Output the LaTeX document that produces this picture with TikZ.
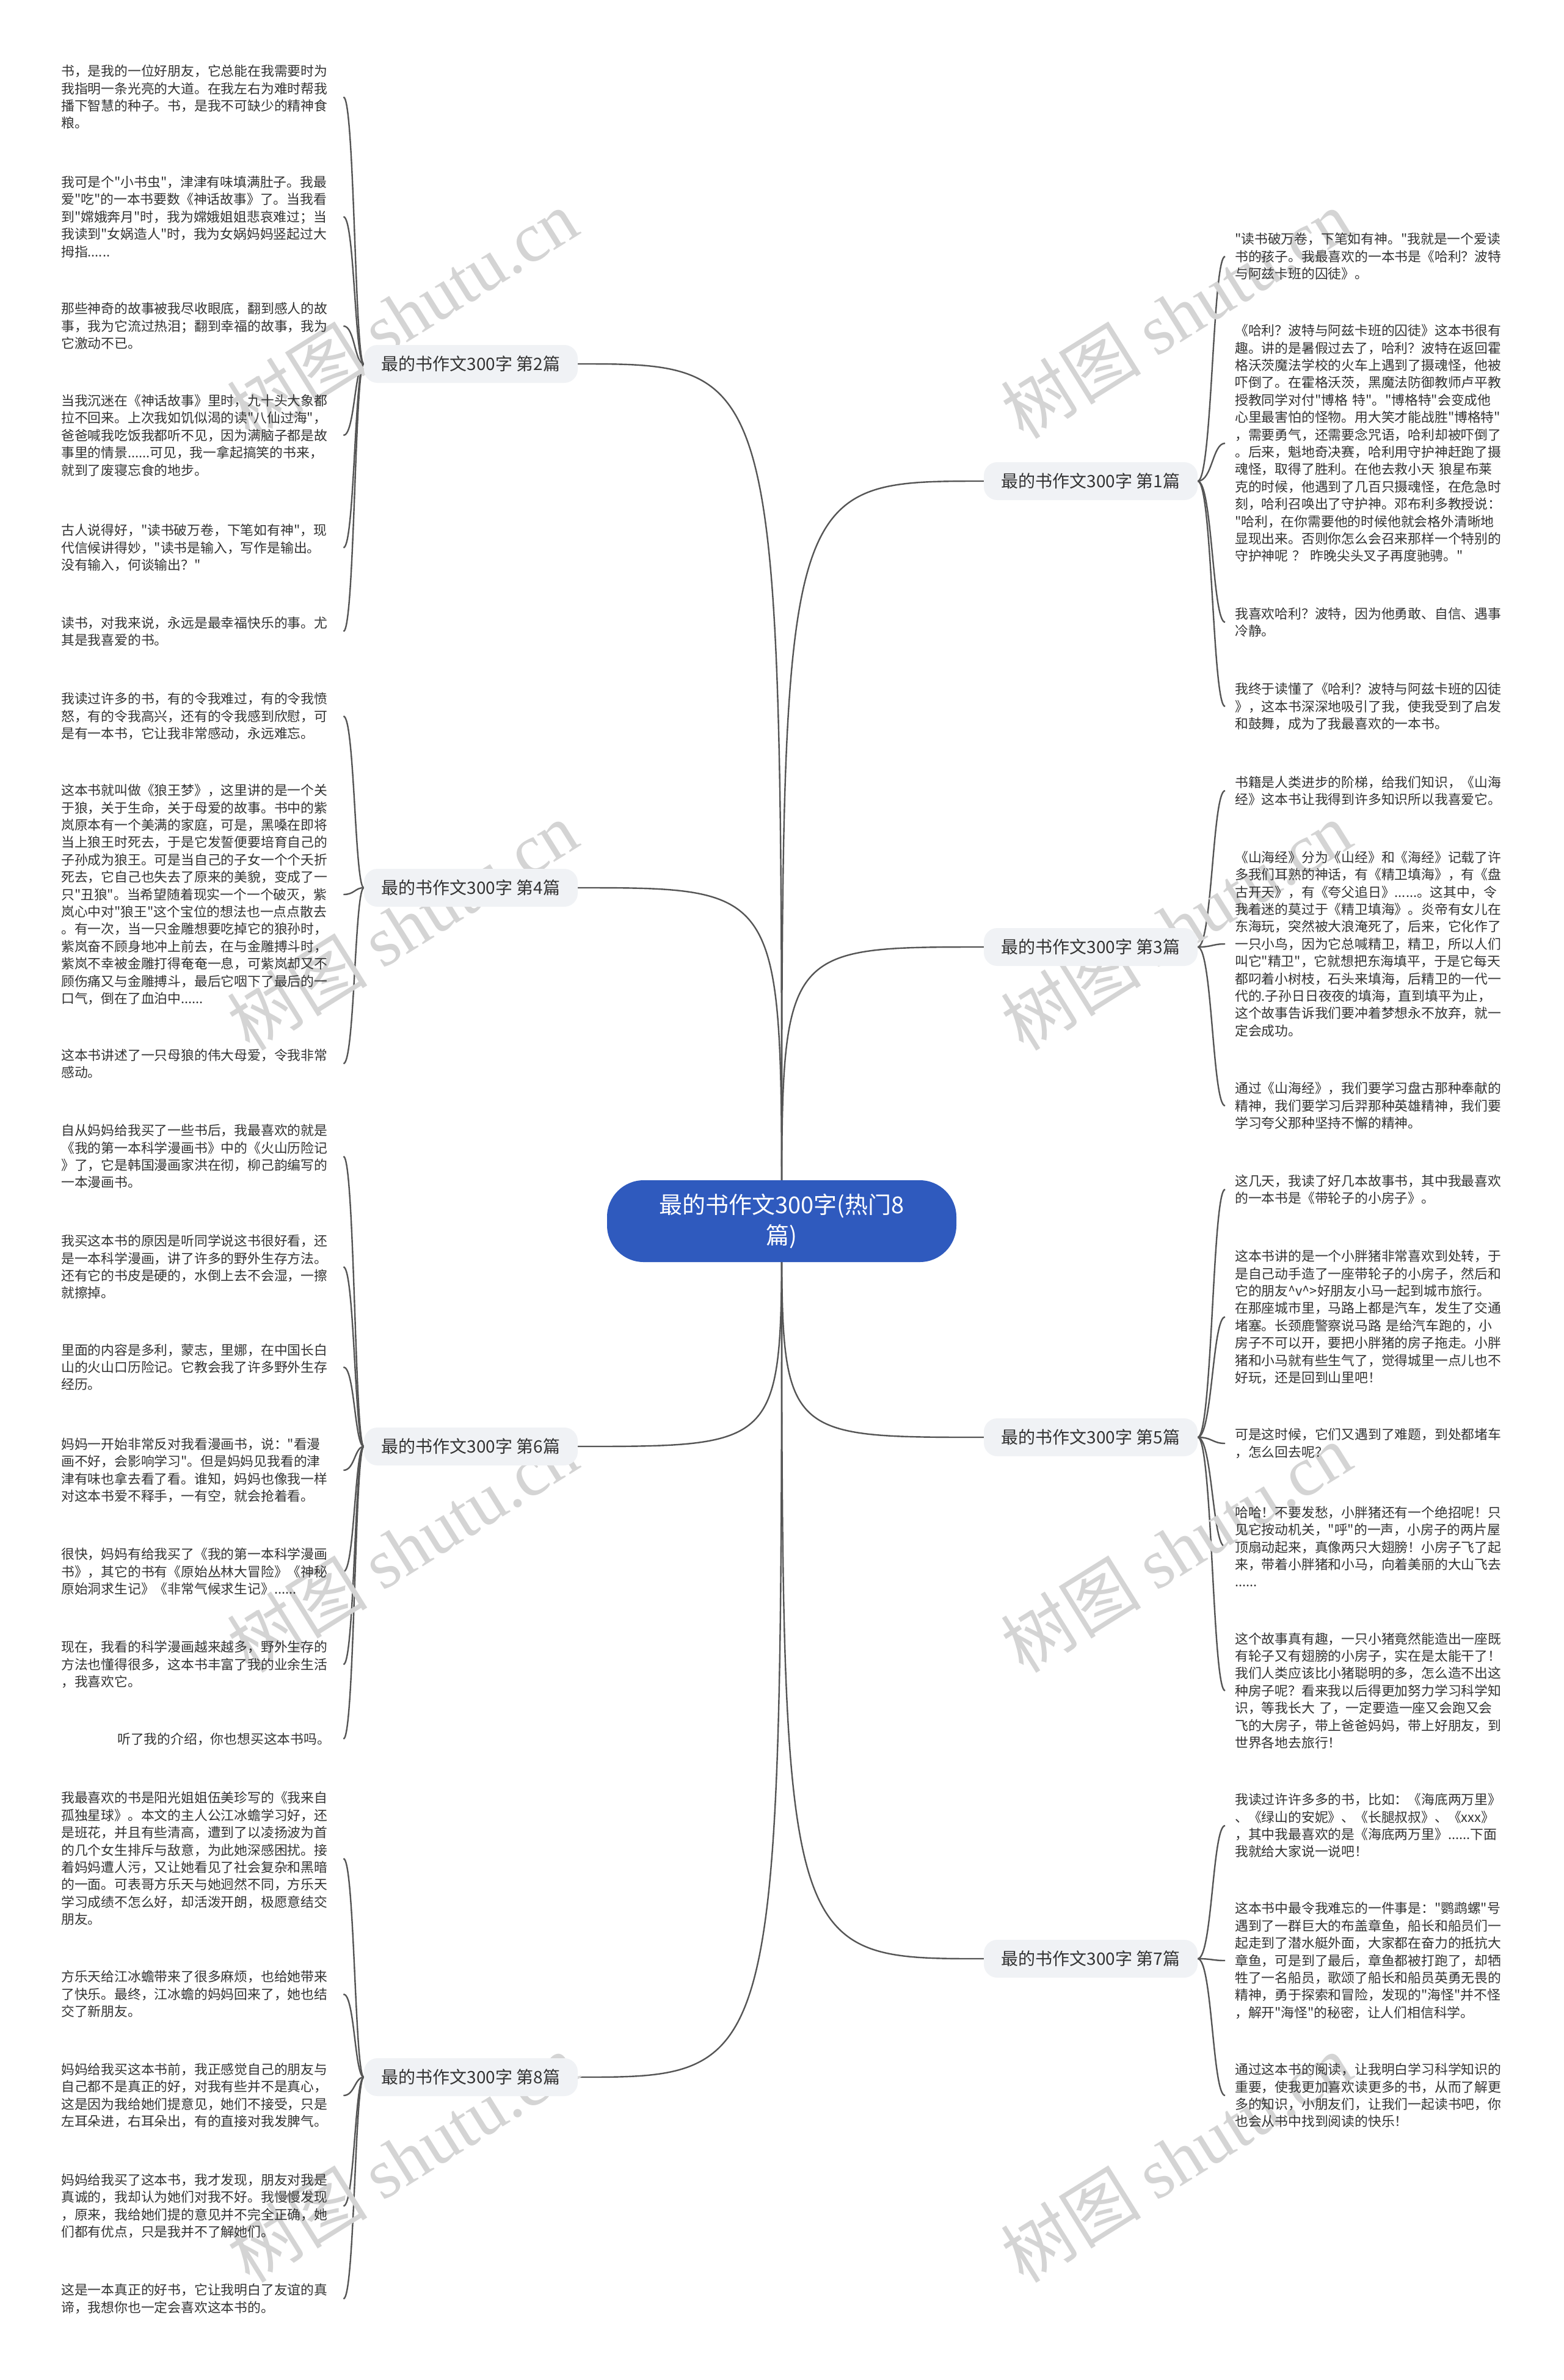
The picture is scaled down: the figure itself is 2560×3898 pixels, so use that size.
\documentclass[tikz,border=0pt]{standalone}
\usepackage{fontspec}
\newfontfamily\cjk{Noto Sans CJK SC}
\newfontfamily\wmserif{Liberation Serif}
\usetikzlibrary{calc,backgrounds}
\definecolor{rootblue}{HTML}{2F5ABE}
\definecolor{txt}{HTML}{333333}
\definecolor{lnc}{HTML}{555555}
\definecolor{brfill}{HTML}{F0F2F5}
\newcommand{\leftlink}[2]{\draw[conn] (#1.west) .. controls ($(#1.west)+(-15,0)$) and ($(#1.west |- #2.east)+(-15,0)$) .. ($(#2.east)+(12,0)$);}
\newcommand{\rightlink}[2]{\draw[conn] (#1.east) .. controls ($(#1.east)+(24,0)$) and ($(#1.east |- #2.west)+(24,0)$) .. ($(#2.west)+(-16,0)$);}
\begin{document}
\begin{tikzpicture}[x=1pt,y=-1pt,
 leaf/.style={anchor=west, inner sep=0pt, text width=450pt, align=left, text=txt, font=\cjk\fontsize{21.8}{28.4}\selectfont},
 branch/.style={fill=brfill, rounded corners=22pt, minimum width=350pt, minimum height=62pt, inner sep=0pt, text=txt, font=\cjk\fontsize{28}{34}\selectfont},
 rootnode/.style={fill=rootblue, rounded corners=60pt, minimum width=572pt, minimum height=134pt, text=white, align=center, font=\cjk\fontsize{38}{50}\selectfont},
 conn/.style={draw=lnc, line width=2.4pt},
 wm/.style={text=black!17, rotate=32, inner sep=0pt, font=\fontsize{115}{115}\selectfont}]
\useasboundingbox (0,0) rectangle (2560,3898);

% watermarks
\node[wm] (wm1) at (659,514) {\cjk 树图 \wmserif shutu.cn};
\node[wm] (wm2) at (659,1516) {\cjk 树图 \wmserif shutu.cn};
\node[wm] (wm3) at (659,2535) {\cjk 树图 \wmserif shutu.cn};
\node[wm] (wm4) at (659,3534) {\cjk 树图 \wmserif shutu.cn};
\node[wm] (wm5) at (1926,514) {\cjk 树图 \wmserif shutu.cn};
\node[wm] (wm6) at (1926,1516) {\cjk 树图 \wmserif shutu.cn};
\node[wm] (wm7) at (1926,2535) {\cjk 树图 \wmserif shutu.cn};
\node[wm] (wm8) at (1926,3534) {\cjk 树图 \wmserif shutu.cn};

% root and branches
\node[rootnode] (root) at (1280,2000) {最的书作文300字(热门8\\篇)};
\node[branch] (b2) at (771,596) {最的书作文300字 第2篇};
\node[branch] (b4) at (771,1454) {最的书作文300字 第4篇};
\node[branch] (b6) at (771,2369) {最的书作文300字 第6篇};
\node[branch] (b8) at (771,3402) {最的书作文300字 第8篇};
\node[branch] (b1) at (1786,788) {最的书作文300字 第1篇};
\node[branch] (b3) at (1786,1551) {最的书作文300字 第3篇};
\node[branch] (b5) at (1786,2354) {最的书作文300字 第5篇};
\node[branch] (b7) at (1786,3208) {最的书作文300字 第7篇};

% left leaves
\node[leaf] (l2a) at (100,159) {书，是我的一位好朋友，它总能在我需要时为\\我指明一条光亮的大道。在我左右为难时帮我\\播下智慧的种子。书，是我不可缺少的精神食\\粮。};
\node[leaf] (l2b) at (100,355) {我可是个"小书虫"，津津有味填满肚子。我最\\爱"吃"的一本书要数《神话故事》了。当我看\\到"嫦娥奔月"时，我为嫦娥姐姐悲哀难过；当\\我读到"女娲造人"时，我为女娲妈妈竖起过大\\拇指......};
\node[leaf] (l2c) at (100,534) {那些神奇的故事被我尽收眼底，翻到感人的故\\事，我为它流过热泪；翻到幸福的故事，我为\\它激动不已。};
\node[leaf] (l2d) at (100,713) {当我沉迷在《神话故事》里时，九十头大象都\\拉不回来。上次我如饥似渴的读"八仙过海"，\\爸爸喊我吃饭我都听不见，因为满脑子都是故\\事里的情景......可见，我一拿起搞笑的书来，\\就到了废寝忘食的地步。};
\node[leaf] (l2e) at (100,897) {古人说得好，"读书破万卷，下笔如有神"，现\\代信候讲得妙，"读书是输入，写作是输出。\\没有输入，何谈输出？"};
\node[leaf] (l2f) at (100,1034) {读书，对我来说，永远是最幸福快乐的事。尤\\其是我喜爱的书。};

\node[leaf] (l4a) at (100,1173) {我读过许多的书，有的令我难过，有的令我愤\\怒，有的令我高兴，还有的令我感到欣慰，可\\是有一本书，它让我非常感动，永远难忘。};
\node[leaf] (l4b) at (100,1465) {这本书就叫做《狼王梦》，这里讲的是一个关\\于狼，关于生命，关于母爱的故事。书中的紫\\岚原本有一个美满的家庭，可是，黑嗓在即将\\当上狼王时死去，于是它发誓便要培育自己的\\子孙成为狼王。可是当自己的子女一个个夭折\\死去，它自己也失去了原来的美貌，变成了一\\只"丑狼"。当希望随着现实一个一个破灭，紫\\岚心中对"狼王"这个宝位的想法也一点点散去\\。有一次，当一只金雕想要吃掉它的狼孙时，\\紫岚奋不顾身地冲上前去，在与金雕搏斗时，\\紫岚不幸被金雕打得奄奄一息，可紫岚却又不\\顾伤痛又与金雕搏斗，最后它咽下了最后的一\\口气，倒在了血泊中......};
\node[leaf] (l4c) at (100,1742) {这本书讲述了一只母狼的伟大母爱，令我非常\\感动。};

\node[leaf] (l6a) at (100,1894) {自从妈妈给我买了一些书后，我最喜欢的就是\\《我的第一本科学漫画书》中的《火山历险记\\》了，它是韩国漫画家洪在彻，柳己韵编写的\\一本漫画书。};
\node[leaf] (l6b) at (100,2075) {我买这本书的原因是听同学说这书很好看，还\\是一本科学漫画，讲了许多的野外生存方法。\\还有它的书皮是硬的，水倒上去不会湿，一擦\\就擦掉。};
\node[leaf] (l6c) at (100,2239) {里面的内容是多利，蒙志，里娜，在中国长白\\山的火山口历险记。它教会我了许多野外生存\\经历。};
\node[leaf] (l6d) at (100,2408) {妈妈一开始非常反对我看漫画书，说："看漫\\画不好，会影响学习"。但是妈妈见我看的津\\津有味也拿去看了看。谁知，妈妈也像我一样\\对这本书爱不释手，一有空，就会抢着看。};
\node[leaf] (l6e) at (100,2574) {很快，妈妈有给我买了《我的第一本科学漫画\\书》，其它的书有《原始丛林大冒险》《神秘\\原始洞求生记》《非常气候求生记》......};
\node[leaf] (l6f) at (100,2726) {现在，我看的科学漫画越来越多，野外生存的\\方法也懂得很多，这本书丰富了我的业余生活\\，我喜欢它。};
\node[leaf] (l6g) at (100,2848) {\hspace*{92pt}听了我的介绍，你也想买这本书吗。};

\node[leaf] (l8a) at (100,3044) {我最喜欢的书是阳光姐姐伍美珍写的《我来自\\孤独星球》。本文的主人公江冰蟾学习好，还\\是班花，并且有些清高，遭到了以凌扬波为首\\的几个女生排斥与敌意，为此她深感困扰。接\\着妈妈遭人污，又让她看见了社会复杂和黑暗\\的一面。可表哥方乐天与她迥然不同，方乐天\\学习成绩不怎么好，却活泼开朗，极愿意结交\\朋友。};
\node[leaf] (l8b) at (100,3266) {方乐天给江冰蟾带来了很多麻烦，也给她带来\\了快乐。最终，江冰蟾的妈妈回来了，她也结\\交了新朋友。};
\node[leaf] (l8c) at (100,3432) {妈妈给我买这本书前，我正感觉自己的朋友与\\自己都不是真正的好，对我有些并不是真心，\\这是因为我给她们提意见，她们不接受，只是\\左耳朵进，右耳朵出，有的直接对我发脾气。};
\node[leaf] (l8d) at (100,3613) {妈妈给我买了这本书，我才发现，朋友对我是\\真诚的，我却认为她们对我不好。我慢慢发现\\，原来，我给她们提的意见并不完全正确，她\\们都有优点，只是我并不了解她们。};
\node[leaf] (l8e) at (100,3765) {这是一本真正的好书，它让我明白了友谊的真\\谛，我想你也一定会喜欢这本书的。};

% right leaves
\node[leaf] (r1a) at (2022,420) {"读书破万卷，下笔如有神。"我就是一个爱读\\书的孩子。我最喜欢的一本书是《哈利？波特\\与阿兹卡班的囚徒》。};
\node[leaf] (r1b) at (2022,726) {《哈利？波特与阿兹卡班的囚徒》这本书很有\\趣。讲的是暑假过去了，哈利？波特在返回霍\\格沃茨魔法学校的火车上遇到了摄魂怪，他被\\吓倒了。在霍格沃茨，黑魔法防御教师卢平教\\授教同学对付"博格 特"。"博格特"会变成他\\心里最害怕的怪物。用大笑才能战胜"博格特"\\，需要勇气，还需要念咒语，哈利却被吓倒了\\。后来，魁地奇决赛，哈利用守护神赶跑了摄\\魂怪，取得了胜利。在他去救小天 狼星布莱\\克的时候，他遇到了几百只摄魂怪，在危急时\\刻，哈利召唤出了守护神。邓布利多教授说：\\"哈利，在你需要他的时候他就会格外清晰地\\显现出来。否则你怎么会召来那样一个特别的\\守护神呢 ？ 昨晚尖头叉子再度驰骋。"};
\node[leaf] (r1c) at (2022,1019) {我喜欢哈利？波特，因为他勇敢、自信、遇事\\冷静。};
\node[leaf] (r1d) at (2022,1157) {我终于读懂了《哈利？波特与阿兹卡班的囚徒\\》，这本书深深地吸引了我，使我受到了启发\\和鼓舞，成为了我最喜欢的一本书。};

\node[leaf] (r3a) at (2022,1295) {书籍是人类进步的阶梯，给我们知识，《山海\\经》这本书让我得到许多知识所以我喜爱它。};
\node[leaf] (r3b) at (2022,1546) {《山海经》分为《山经》和《海经》记载了许\\多我们耳熟的神话，有《精卫填海》，有《盘\\古开天》，有《夸父追日》......。这其中，令\\我着迷的莫过于《精卫填海》。炎帝有女儿在\\东海玩，突然被大浪淹死了，后来，它化作了\\一只小鸟，因为它总喊精卫，精卫，所以人们\\叫它"精卫"，它就想把东海填平，于是它每天\\都叼着小树枝，石头来填海，后精卫的一代一\\代的.子孙日日夜夜的填海，直到填平为止，\\这个故事告诉我们要冲着梦想永不放弃，就一\\定会成功。};
\node[leaf] (r3c) at (2022,1811) {通过《山海经》，我们要学习盘古那种奉献的\\精神，我们要学习后羿那种英雄精神，我们要\\学习夸父那种坚持不懈的精神。};

\node[leaf] (r5a) at (2022,1948) {这几天，我读了好几本故事书，其中我最喜欢\\的一本书是《带轮子的小房子》。};
\node[leaf] (r5b) at (2022,2157) {这本书讲的是一个小胖猪非常喜欢到处转，于\\是自己动手造了一座带轮子的小房子，然后和\\它的朋友\textasciicircum v\textasciicircum >好朋友小马一起到城市旅行。\\在那座城市里，马路上都是汽车，发生了交通\\堵塞。长颈鹿警察说马路 是给汽车跑的，小\\房子不可以开，要把小胖猪的房子拖走。小胖\\猪和小马就有些生气了，觉得城里一点儿也不\\好玩，还是回到山里吧！};
\node[leaf] (r5c) at (2022,2364) {可是这时候，它们又遇到了难题，到处都堵车\\，怎么回去呢？};
\node[leaf] (r5d) at (2022,2533) {哈哈！不要发愁，小胖猪还有一个绝招呢！只\\见它按动机关，"呼"的一声，小房子的两片屋\\顶扇动起来，真像两只大翅膀！小房子飞了起\\来，带着小胖猪和小马，向着美丽的大山飞去\\......};
\node[leaf] (r5e) at (2022,2769) {这个故事真有趣，一只小猪竟然能造出一座既\\有轮子又有翅膀的小房子，实在是太能干了！\\我们人类应该比小猪聪明的多，怎么造不出这\\种房子呢？看来我以后得更加努力学习科学知\\识，等我长大 了，一定要造一座又会跑又会\\飞的大房子，带上爸爸妈妈，带上好朋友，到\\世界各地去旅行！};

\node[leaf] (r7a) at (2022,2990) {我读过许许多多的书，比如：《海底两万里》\\、《绿山的安妮》、《长腿叔叔》、《xxx》\\，其中我最喜欢的是《海底两万里》......下面\\我就给大家说一说吧！};
\node[leaf] (r7b) at (2022,3211) {这本书中最令我难忘的一件事是："鹦鹉螺"号\\遇到了一群巨大的布盖章鱼，船长和船员们一\\起走到了潜水艇外面，大家都在奋力的抵抗大\\章鱼，可是到了最后，章鱼都被打跑了，却牺\\牲了一名船员，歌颂了船长和船员英勇无畏的\\精神，勇于探索和冒险，发现的"海怪"并不怪\\，解开"海怪"的秘密，让人们相信科学。};
\node[leaf] (r7c) at (2022,3432) {通过这本书的阅读，让我明白学习科学知识的\\重要，使我更加喜欢读更多的书，从而了解更\\多的知识，小朋友们，让我们一起读书吧，你\\也会从书中找到阅读的快乐！};

\begin{scope}[on background layer]
\fill[white] (0,0) rectangle (2560,3898);
\foreach \b in {b2,b4,b6,b8}{\draw[conn] (root.center) .. controls (root.center |- \b.east) and (root.center |- \b.east) .. (\b.east);}
\foreach \b in {b1,b3,b5,b7}{\draw[conn] (root.center) .. controls (root.center |- \b.west) and (root.center |- \b.west) .. (\b.west);}
\foreach \l in {l2a,l2b,l2c,l2d,l2e,l2f}{\leftlink{b2}{\l}}
\foreach \l in {l4a,l4b,l4c}{\leftlink{b4}{\l}}
\foreach \l in {l6a,l6b,l6c,l6d,l6e,l6f,l6g}{\leftlink{b6}{\l}}
\foreach \l in {l8a,l8b,l8c,l8d,l8e}{\leftlink{b8}{\l}}
\foreach \l in {r1a,r1b,r1c,r1d}{\rightlink{b1}{\l}}
\foreach \l in {r3a,r3b,r3c}{\rightlink{b3}{\l}}
\foreach \l in {r5a,r5b,r5c,r5d,r5e}{\rightlink{b5}{\l}}
\foreach \l in {r7a,r7b,r7c}{\rightlink{b7}{\l}}
\end{scope}
\end{tikzpicture}
\end{document}
